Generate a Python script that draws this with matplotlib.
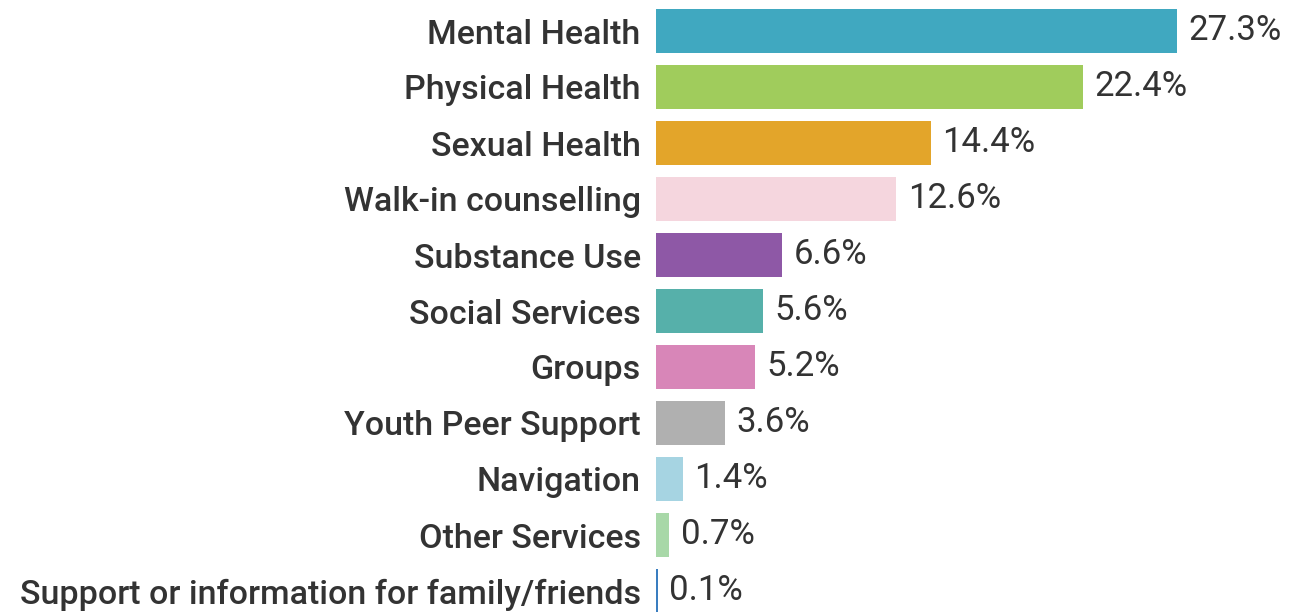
import matplotlib.pyplot as plt
from matplotlib import font_manager

categories = ['Mental Health', 'Physical Health', 'Sexual Health', 'Walk-in counselling',
              'Substance Use', 'Social Services', 'Groups', 'Youth Peer Support',
              'Navigation', 'Other Services', 'Support or information for family/friends']
values = [27.3, 22.4, 14.4, 12.6, 6.6, 5.6, 5.2, 3.6, 1.4, 0.7, 0.1]
colors = ['#40A8C0', '#A0CC5C', '#E3A52A', '#F5D6DE', '#8E58A6', '#56B0AA',
          '#D886B8', '#B0B0B0', '#A6D4E2', '#A8D8A8', '#3A7EC0']

names = {f.name for f in font_manager.fontManager.ttflist}
fam = 'DejaVu Sans'
for cand in ['Roboto', 'Liberation Sans']:
    if cand in names:
        fam = cand
        break
plt.rcParams['font.family'] = [fam, 'DejaVu Sans']

fig = plt.figure(figsize=(12.99, 6.12), dpi=100)
ax = fig.add_axes([656/1299, -7/612, 643/1299, 616/612])
y = list(range(len(categories)))
ax.barh(y, values, height=0.8, color=colors)
ax.set_ylim(len(categories) - 0.5, -0.5)
ax.set_xlim(0, 643/19.08)
ax.set_yticks(y)
ax.set_yticklabels(categories, fontsize=24.5, color='#333333', fontweight='medium')
ax.tick_params(axis='y', length=0, pad=11)
ax.set_xticks([])
for s in ax.spines.values():
    s.set_visible(False)
for yi, v in zip(y, values):
    ax.text(v + 0.6, yi, f'{v}%', va='center', ha='left', fontsize=25, color='#333333')

fig.savefig('out.png', dpi=100)
